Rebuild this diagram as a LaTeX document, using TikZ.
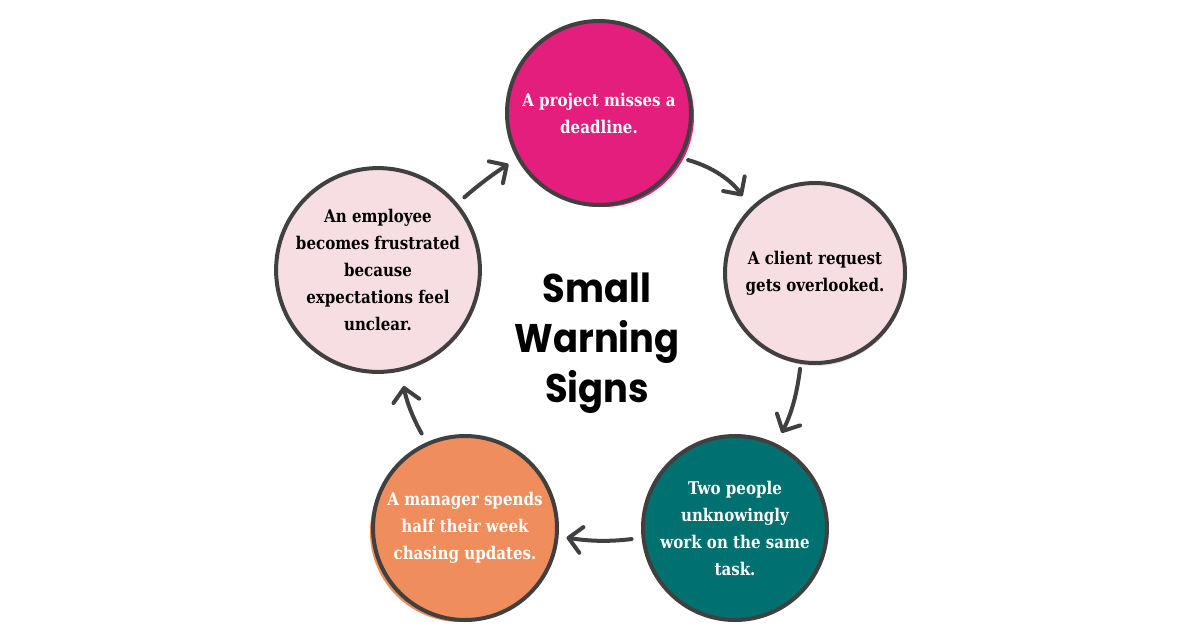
\documentclass[tikz,border=0pt]{standalone}
\usepackage{fontspec}
\usetikzlibrary{arrows.meta, calc}
\newfontfamily\circfont[FakeStretch=0.86]{DejaVu Serif}
\newfontfamily\headfont[FakeStretch=0.92]{Poppins}
\definecolor{ink}{RGB}{64,64,64}
\definecolor{hotpink}{RGB}{227,30,124}
\definecolor{blush}{RGB}{246,222,226}
\definecolor{deepteal}{RGB}{0,112,112}
\definecolor{peach}{RGB}{240,141,92}

\begin{document}
\begin{tikzpicture}[x=1pt, y=-1pt,
  sign/.style={circle, draw=ink, line width=4pt, minimum size=#1, inner sep=0pt, outer sep=0pt,
    align=center, font=\circfont\bfseries\fontsize{17.5}{27}\selectfont},
  flow/.style={ink, line width=4pt, line cap=round,
    -{Straight Barb[length=13pt, width=26pt, line cap=round, line join=round]}}]
  \fill[white] (0,0) rectangle (1200,630);
  \useasboundingbox (0,0) rectangle (1200,630);
  % centres of the five signs
  \coordinate (p1) at (599,113);
  \coordinate (p2) at (815,273);
  \coordinate (p3) at (735,528);
  \coordinate (p4) at (465,528);
  \coordinate (p5) at (378,270);
  % slightly offset fills, hand-made look
  \fill[hotpink] ($(p1)+(4,3)$) circle[radius=91pt];
  \fill[blush] ($(p2)+(1,4)$) circle[radius=89pt];
  \fill[peach] ($(p4)+(-5,4)$) circle[radius=90pt];
  \fill[blush] ($(p5)+(-1,3)$) circle[radius=89pt];
  \node[sign=184pt, fill=hotpink, text=white] (deadline) at (p1) {A project misses a\\deadline.};
  \node[sign=180pt, fill=blush] (request) at (p2) {A client request\\gets overlooked.};
  \node[sign=184pt, fill=deepteal, text=white] (sametask) at (p3) {Two people\\unknowingly\\work on the same\\task.};
  \node[sign=184pt, fill=peach, text=white] (manager) at (p4) {A manager spends\\half their week\\chasing updates.};
  \node[sign=180pt, fill=blush] (employee) at (p5) {An employee\\becomes frustrated\\because\\expectations feel\\unclear.};
  \node[font=\headfont\bfseries\fontsize{40}{50}\selectfont, align=center] (title) at (597,343) {Small\\Warning\\Signs};
  % arrows round the cycle
  \draw[flow, shorten <=9pt, shorten >=16pt] (deadline.-29) to[bend left=20] (request.135);
  \draw[flow, shorten <=7pt, shorten >=14pt] (request.-99.5) to[bend left=10] (sametask.64.4);
  \draw[flow, shorten <=12pt, shorten >=10pt] (sametask.-174) to[bend left=8] (manager.-5.6);
  \draw[flow, shorten <=12pt, shorten >=17pt] (manager.114.4) to[bend left=10] (employee.-77.1);
  \draw[flow, shorten <=11pt, shorten >=12pt] (employee.40.6) to[bend left=4] (deadline.-151.2);
\end{tikzpicture}
\end{document}
